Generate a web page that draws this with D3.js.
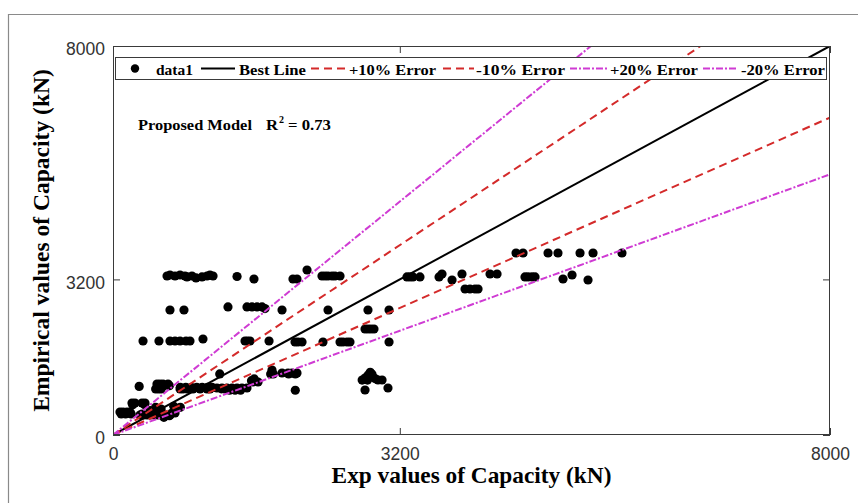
<!DOCTYPE html>
<html>
<head>
<meta charset="utf-8">
<script src="https://cdn.jsdelivr.net/npm/d3@7"></script>
<style>
  html, body { margin: 0; padding: 0; background: #fff; }
  svg { display: block; }
</style>
</head>
<body>
<svg id="chart" width="858" height="503"></svg>
<script>
// Experimental capacity (kN)
const expValues = [
  78,112,156,190,92,140,202,220,354,212,245,324,357,301,340,380,420,460,500,540,580,636,324,415,476,537,568,629,678,751,658,692,292,
  491,524,558,614,476,507,537,568,629,748,781,826,893,971,1049,1082,751,812,873,934,995,1056,1105,1160,1216,1272,1328,1384,1439,1495,
  1209,1240,1301,1362,1423,1191,1545,1576,1562,1618,1774,1759,1789,1886,1953,1960,2034,1997,2053,2034,
  2780,2812,2845,2870,2890,2923,2957,3002,2840,2812,3068,
  335,513,636,692,748,815,859,1004,1473,1500,1529,1741,2031,2064,2109,2343,2533,2566,2611,2644,3080,
  2812,2845,2878,2912,
  636,792,1283,1495,1551,1607,1663,1696,1886,2399,2845,3080,
  603,636,692,748,803,826,881,926,993,1049,1082,1116,1384,1573,2008,2053,2165,2332,2366,2399,2444,2477,2533,
  3280,3314,3347,3425,3638,3671,3783,3894,3928,3983,4039,4073,4207,4285,
  4497,4575,4854,4965,5211,5356,5679,4597,4631,4675,4709,5021,5122,5300
];
// Empirical (predicted) capacity (kN)
const empValues = [
  473,473,473,473,432,432,432,624,624,658,658,658,658,411,411,411,411,411,411,411,411,411,432,501,569,535,364,398,590,569,452,452,1000,
  1049,1049,1049,1049,947,947,947,1015,1015,946,946,946,946,946,946,946,981,981,981,981,981,981,981,967,967,967,967,967,967,967,
  950,950,920,920,920,1256,1118,1153,1090,1090,1337,1256,1256,1275,1275,1256,1256,1275,1275,920,
  1130,1170,1230,1290,1250,1160,1131,1131,1130,925,967,
  1933,1933,1933,1933,1933,1933,1933,1974,1933,1933,1933,1933,1913,1913,1913,1913,1913,1913,1913,1913,1913,
  2180,2180,2180,2180,
  2571,2571,2633,2633,2633,2633,2633,2600,2571,2571,2571,2571,
  3270,3290,3270,3290,3270,3250,3270,3230,3250,3270,3290,3270,3260,3208,3208,3208,3393,3270,3270,3270,3270,3270,3270,
  3250,3250,3250,3250,3250,3311,3188,3311,3003,3003,3003,3003,3311,3311,
  3743,3743,3743,3743,3743,3743,3743,3250,3250,3250,3250,3208,3291,3188
];

// Reference lines through the origin: name and slope
const refNames  = ["Best Line", "+10% Error", "-10% Error", "+20% Error", "-20% Error"];
const refSlopes = [1.0, 1.22, 0.816, 1.5, 0.67];

const xTicks = [0, 3200, 8000];
const yTicks = [0, 3200, 8000];
const axisMax = 8000;

const legendLabels = ["data1"].concat(refNames);

const r2Text = "0.73";

// ---- layout ----
const plot = { left: 113, right: 830, top: 46, bottom: 435 };
const svg = d3.select("#chart");

const x = d3.scaleLinear().domain([0, axisMax]).range([plot.left, plot.right]);
const y = d3.scaleLinear().domain([0, axisMax]).range([plot.bottom, plot.top]);

// Place a text at (px, py) and stretch it horizontally to the given width
function widenText(sel, px, py, width, anchor) {
  const natural = sel.node().getComputedTextLength();
  const s = width / natural;
  sel.attr("x", 0).attr("y", 0)
     .attr("text-anchor", anchor || "start")
     .attr("transform", `translate(${px},${py}) scale(${s},1)`);
  return sel;
}

// outer figure frame
svg.append("path")
  .attr("d", "M8.5,503 V14.5 H858")
  .attr("fill", "none").attr("stroke", "#8a8a8a").attr("stroke-width", 1.2);

svg.append("defs").append("clipPath").attr("id", "plotClip")
  .append("rect")
  .attr("x", plot.left).attr("y", plot.top)
  .attr("width", plot.right - plot.left).attr("height", plot.bottom - plot.top);

const axisColor = "#3a3a3a";
const tickFont = "'Liberation Sans', Arial, sans-serif";
const serif = "'Liberation Serif', 'Times New Roman', serif";

// scatter points
svg.append("g").attr("clip-path", "url(#plotClip)")
  .selectAll("circle")
  .data(expValues.map((v, i) => [v, empValues[i]]))
  .join("circle")
  .attr("cx", d => x(d[0]))
  .attr("cy", d => y(d[1]))
  .attr("r", 4.6)
  .attr("fill", "#000");

// line styles
const lineStyles = [
  { color: "#000000", dash: null,      width: 2 },
  { color: "#d42a2a", dash: "8,5",     width: 2 },
  { color: "#d42a2a", dash: "8,5",     width: 2 },
  { color: "#cf3bd3", dash: "7,2,2,2", width: 2 },
  { color: "#cf3bd3", dash: "7,2,2,2", width: 2 }
];

const lineG = svg.append("g").attr("clip-path", "url(#plotClip)");
refSlopes.forEach((s, i) => {
  const xEnd = Math.min(axisMax, axisMax / s);
  const pts = [[0, 0], [xEnd, s * xEnd]];
  const st = lineStyles[i];
  lineG.append("path")
    .attr("d", d3.line().x(d => x(d[0])).y(d => y(d[1]))(pts))
    .attr("fill", "none")
    .attr("stroke", st.color)
    .attr("stroke-width", st.width)
    .attr("stroke-dasharray", st.dash);
});

// axes (ticks pointing inward)
const bottomAxis = svg.append("g")
  .attr("transform", `translate(0,${plot.bottom})`)
  .call(d3.axisBottom(x).tickValues(xTicks).tickFormat(d3.format("d"))
        .tickSizeInner(-7).tickSizeOuter(0).tickPadding(13));
const leftAxis = svg.append("g")
  .attr("transform", `translate(${plot.left},0)`)
  .call(d3.axisLeft(y).tickValues(yTicks).tickFormat(d3.format("d"))
        .tickSizeInner(-7).tickSizeOuter(0).tickPadding(8));
const topAxis = svg.append("g")
  .attr("transform", `translate(0,${plot.top})`)
  .call(d3.axisTop(x).tickValues(xTicks).tickFormat("").tickSizeInner(-7).tickSizeOuter(0));
const rightAxis = svg.append("g")
  .attr("transform", `translate(${plot.right},0)`)
  .call(d3.axisRight(y).tickValues(yTicks).tickFormat("").tickSizeInner(-7).tickSizeOuter(0));

[bottomAxis, leftAxis, topAxis, rightAxis].forEach(g => {
  g.select(".domain").remove();
  g.selectAll(".tick line").attr("stroke", axisColor).attr("stroke-width", 1);
  g.selectAll(".tick text")
    .attr("fill", "#333")
    .attr("font-family", tickFont)
    .attr("font-size", 17.5);
});
leftAxis.selectAll(".tick text").attr("dy", "0.5em");

// plot box
svg.append("rect")
  .attr("x", plot.left + 0.5).attr("y", plot.top + 0.5)
  .attr("width", plot.right - plot.left - 1).attr("height", plot.bottom - plot.top - 1)
  .attr("fill", "none").attr("stroke", axisColor).attr("stroke-width", 1);

// axis titles
const xTitle = svg.append("text")
  .attr("font-family", serif).attr("font-weight", "bold").attr("font-size", 22.5)
  .attr("fill", "#000")
  .text("Exp values of Capacity (kN)");
widenText(xTitle, (plot.left + plot.right) / 2, 483, 280, "middle");

const yTitleG = svg.append("g")
  .attr("transform", `translate(49,${(plot.top + plot.bottom) / 2}) rotate(-90)`);
const yTitle = yTitleG.append("text")
  .attr("font-family", serif).attr("font-weight", "bold").attr("font-size", 23)
  .attr("fill", "#000")
  .text("Empirical values of Capacity (kN)");
widenText(yTitle, 0, 0, 343, "middle");

// model annotation
const annStyle = t => t.attr("font-family", serif).attr("font-weight", "bold").attr("fill", "#000");
widenText(annStyle(svg.append("text")).attr("font-size", 14.5).text("Proposed Model"), 138, 130, 114);
widenText(annStyle(svg.append("text")).attr("font-size", 14.5).text("R"), 266, 130, 12);
annStyle(svg.append("text")).attr("font-size", 10).attr("x", 279).attr("y", 123).text("2");
widenText(annStyle(svg.append("text")).attr("font-size", 14.5).text("= " + r2Text), 288, 130, 43);

// legend
const legend = svg.append("g");
legend.append("rect")
  .attr("x", 115.5).attr("y", 57.5).attr("width", 711).attr("height", 22)
  .attr("fill", "#fff").attr("stroke", axisColor).attr("stroke-width", 1);

const legendY = 68.5;
const legendItems = [
  { sample: [135, 135],  text: [156, 37] },
  { sample: [201, 235],  text: [239, 67] },
  { sample: [311, 347],  text: [349, 87] },
  { sample: [443, 474],  text: [476, 89] },
  { sample: [570, 607],  text: [610, 88] },
  { sample: [703, 738],  text: [741, 84] }
];
legendItems.forEach((it, i) => {
  if (i === 0) {
    legend.append("circle").attr("cx", it.sample[0]).attr("cy", legendY)
      .attr("r", 4.2).attr("fill", "#000");
  } else {
    const st = lineStyles[i - 1];
    legend.append("line")
      .attr("x1", it.sample[0]).attr("x2", it.sample[1])
      .attr("y1", legendY).attr("y2", legendY)
      .attr("stroke", st.color).attr("stroke-width", st.width)
      .attr("stroke-dasharray", st.dash);
  }
  const t = legend.append("text")
    .attr("font-family", serif).attr("font-weight", "bold").attr("font-size", 15.5)
    .attr("fill", "#000")
    .text(legendLabels[i]);
  widenText(t, it.text[0], 74.5, it.text[1]);
});
</script>
</body>
</html>
